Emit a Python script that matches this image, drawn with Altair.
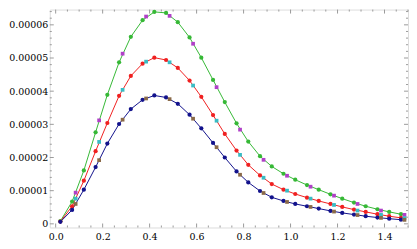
import altair as alt
import pandas as pd

# ---- data (y values in units of 1e-5) ----
x_main = [0.02, 0.07, 0.12, 0.17, 0.22, 0.27, 0.32, 0.37, 0.42, 0.47, 0.52, 0.57,
          0.62, 0.67, 0.72, 0.77, 0.82, 0.87, 0.92, 0.97, 1.02, 1.07, 1.12, 1.17,
          1.22, 1.27, 1.32, 1.37, 1.42, 1.47]
green = [0.08, 0.67, 1.61, 2.76, 3.89, 4.87, 5.64, 6.14, 6.39, 6.36, 6.08, 5.62,
         5.01, 4.34, 3.67, 3.03, 2.48, 2.04, 1.73, 1.51, 1.33, 1.17, 1.03, 0.89,
         0.76, 0.64, 0.53, 0.44, 0.36, 0.29]
red = [0.07, 0.53, 1.30, 2.19, 3.04, 3.86, 4.46, 4.83, 5.01, 4.94, 4.70, 4.32,
       3.83, 3.28, 2.71, 2.21, 1.78, 1.46, 1.20, 1.03, 0.90, 0.79, 0.69, 0.60,
       0.51, 0.43, 0.36, 0.29, 0.23, 0.18]
blue = [0.06, 0.42, 1.03, 1.71, 2.42, 3.01, 3.46, 3.74, 3.87, 3.81, 3.62, 3.29,
        2.88, 2.44, 2.00, 1.58, 1.25, 0.99, 0.80, 0.69, 0.60, 0.53, 0.46, 0.39,
        0.33, 0.28, 0.23, 0.19, 0.155, 0.125]

x_over = [0.085, 0.185, 0.285, 0.385, 0.485, 0.585, 0.685, 0.785, 0.885, 0.985,
          1.085, 1.185, 1.285, 1.385, 1.485]
green_o = [0.94, 3.12, 5.13, 6.25, 6.27, 5.43, 4.12, 2.84, 1.93, 1.45, 1.12, 0.85, 0.60, 0.40, 0.27]
red_o = [0.76, 2.47, 4.04, 4.89, 4.87, 4.17, 3.11, 2.08, 1.39, 1.00, 0.76, 0.57, 0.40, 0.27, 0.17]
blue_o = [0.60, 1.92, 3.14, 3.78, 3.76, 3.17, 2.31, 1.48, 0.93, 0.66, 0.51, 0.37, 0.265, 0.18, 0.12]

UNIT = 1e-5

x_major = [0.0, 0.2, 0.4, 0.6, 0.8, 1.0, 1.2, 1.4]
x_minor = [0.05, 0.10, 0.15, 0.25, 0.30, 0.35, 0.45, 0.50, 0.55, 0.65, 0.70, 0.75,
           0.85, 0.90, 0.95, 1.05, 1.10, 1.15, 1.25, 1.30, 1.35, 1.45, 1.50]
y_major = [0.0, 1e-5, 2e-5, 3e-5, 4e-5, 5e-5, 6e-5]
y_minor = [k * 2e-6 for k in range(1, 33) if k % 5 != 0]

# ---- layout / style ----
W, H = 360, 219
XDOM = [-0.025, 1.5]
YDOM = [-1.1e-6, 6.46e-5]
FRAME = "#9a9a9a"
FONT = "DejaVu Serif"
FS = 9.5

main_rows = []
for name, vals in (("g", green), ("r", red), ("b", blue)):
    for xv, yv in zip(x_main, vals):
        main_rows.append({"x": xv, "y": yv * UNIT, "s": name})
main_df = pd.DataFrame(main_rows)

over_rows = []
for name, vals in (("go", green_o), ("ro", red_o), ("bo", blue_o)):
    for xv, yv in zip(x_over, vals):
        over_rows.append({"x": xv, "y": yv * UNIT, "s": name})
over_df = pd.DataFrame(over_rows)

color_scale = alt.Scale(
    domain=["g", "r", "b", "go", "ro", "bo"],
    range=["#36b836", "#f02020", "#12128c", "#b040c8", "#38bcc4", "#8a6a48"],
)

xs = alt.Scale(domain=XDOM, nice=False, zero=False)
ys = alt.Scale(domain=YDOM, nice=False, zero=False)

x_axis = alt.Axis(values=x_major, format=".1f", domain=False, ticks=False,
                  grid=False, labelPadding=4, labelFont=FONT, labelFontSize=FS)
y_axis = alt.Axis(values=y_major, domain=False, ticks=False, grid=False,
                  labelExpr="datum.value == 0 ? '0' : format(datum.value, '.5f')",
                  labelPadding=2, labelFont=FONT, labelFontSize=FS)

x_enc = alt.X("x:Q", scale=xs, title=None, axis=x_axis)
y_enc = alt.Y("y:Q", scale=ys, title=None, axis=y_axis)
col = alt.Color("s:N", scale=color_scale, legend=None)

lines = alt.Chart(main_df).mark_line(strokeWidth=1).encode(x=x_enc, y=y_enc, color=col)
pts = alt.Chart(main_df).mark_point(filled=True, shape="circle", size=18, opacity=1).encode(
    x=x_enc, y=y_enc, color=col)
over = alt.Chart(over_df).mark_point(filled=True, shape="square", size=14, opacity=1).encode(
    x=x_enc, y=y_enc, color=col)


def xticks(vals, length, top):
    df = pd.DataFrame({"x": vals})
    if top:
        yy, yy2 = alt.value(0), alt.value(length)
    else:
        yy, yy2 = alt.value(H), alt.value(H - length)
    return alt.Chart(df).mark_rule(color=FRAME, strokeWidth=1).encode(
        x=alt.X("x:Q", scale=xs, title=None, axis=x_axis), y=yy, y2=yy2)


def yticks(vals, length, right):
    df = pd.DataFrame({"y": vals})
    if right:
        xx, xx2 = alt.value(W), alt.value(W - length)
    else:
        xx, xx2 = alt.value(0), alt.value(length)
    return alt.Chart(df).mark_rule(color=FRAME, strokeWidth=1).encode(
        y=alt.Y("y:Q", scale=ys, title=None, axis=y_axis), x=xx, x2=xx2)


ticks = [
    xticks(x_major, 4, False), xticks(x_minor, 2, False),
    xticks(x_major, 4, True), xticks(x_minor, 2, True),
    yticks(y_major, 4, False), yticks(y_minor, 2, False),
    yticks(y_major, 4, True), yticks(y_minor, 2, True),
]

chart = (
    alt.layer(lines, pts, over, *ticks)
    .properties(width=W, height=H,
                padding={"left": 0, "top": 0, "right": 0, "bottom": 0})
    .configure_view(stroke=FRAME, strokeWidth=1)
    .configure_axis(labelColor="#222222")
    .configure(background="white")
)

chart.save("out.html", embed_options={"renderer": "svg", "actions": False})
